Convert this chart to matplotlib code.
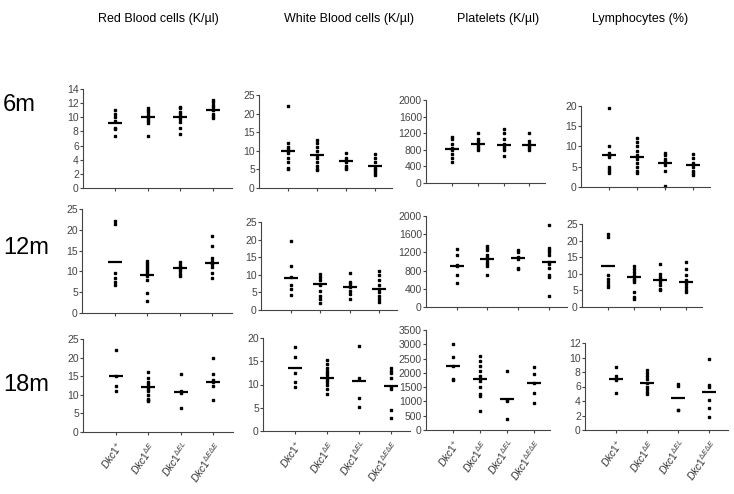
import numpy as np
import matplotlib
matplotlib.use("Agg")
import matplotlib.pyplot as plt

plt.rcParams['font.family'] = ['Liberation Sans', 'DejaVu Sans']
plt.rcParams['mathtext.fontset'] = 'custom'
plt.rcParams['mathtext.it'] = 'Liberation Sans:italic'
plt.rcParams['mathtext.rm'] = 'Liberation Sans'

# column titles, row labels and genotype labels
titles = ['Red Blood cells (K/\u00b5l)', 'White Blood cells (K/\u00b5l)',
          'Platelets (K/\u00b5l)', 'Lymphocytes (%)']
ages = ['6m', '12m', '18m']
genotypes = [r'$\mathit{Dkc1}^{+}$', r'$\mathit{Dkc1}^{\Delta E}$',
             r'$\mathit{Dkc1}^{\Delta EL}$', r'$\mathit{Dkc1}^{\Delta E\Delta E}$']

# 6 months
rbc_6m = [[11, 10.5, 10, 9.5, 8.5, 8.3, 7.3],
          [11.3, 11, 10.7, 10.3, 10, 9.8, 9.5, 9.2, 7.3],
          [11.5, 11.3, 10.8, 10.5, 10, 9.8, 9.3, 8.5, 7.6],
          [12.5, 12.2, 11.8, 11.5, 11, 10.5, 10.2, 9.9]]
rbc_6m_mean = [9.2, 10, 10.1, 11]
wbc_6m = [[22, 12, 11, 10.5, 10, 9.5, 8, 7, 5.5, 5],
          [13, 12, 11, 10, 9, 8, 7, 6, 5, 4.8],
          [9.5, 8, 7.5, 7, 6, 5.5, 5],
          [9.2, 8, 7, 5.5, 5, 4.5, 4, 3.5]]
wbc_6m_mean = [10, 9, 7.2, 6]
plt_6m = [[1100, 1050, 950, 850, 800, 700, 600, 500],
          [1200, 1050, 1000, 950, 900, 850, 800],
          [1300, 1200, 1050, 950, 900, 850, 800, 650],
          [1200, 1000, 950, 900, 850, 800]]
plt_6m_mean = [820, 930, 920, 920]
lym_6m = [[19.5, 10, 8.5, 8, 7.5, 5, 4.5, 4, 3.5],
          [12, 11, 10, 9, 8, 7, 6, 5, 4, 3.5],
          [8.5, 8, 7, 6.5, 5.5, 4, 0.3],
          [8.2, 7.2, 6, 5, 4, 3.5, 3]]
lym_6m_mean = [8, 7.5, 6, 5.5]

# 12 months
rbc_12m = [[22, 21.3, 9.5, 8.5, 7.5, 6.8],
           [12.5, 12, 11.5, 11, 10.5, 10, 9.5, 9, 8, 4.7, 2.8],
           [12.3, 11.5, 11, 10.5, 10, 9.3, 9],
           [18.5, 16, 13.3, 12.5, 12, 11.8, 11, 9.7, 8.5]]
rbc_12m_mean = [12.3, 9.2, 10.7, 12]
wbc_12m = [[19.5, 12.5, 9.5, 7, 6, 4.2],
           [10.3, 9.5, 8.5, 7.5, 7, 5.5, 4, 3, 2],
           [10.5, 8, 7.5, 6.5, 5.5, 4.5, 3.2],
           [11, 10, 8.5, 7, 6, 5, 4, 3, 2.2]]
wbc_12m_mean = [9.2, 7.3, 6.5, 6]
plt_12m = [[1280, 1150, 930, 900, 700, 520],
           [1350, 1300, 1250, 1150, 1100, 1050, 1000, 950, 900, 700],
           [1250, 1200, 1100, 1050, 850, 830],
           [1800, 1300, 1250, 1200, 1150, 1000, 950, 850, 700, 650, 250]]
plt_12m_mean = [900, 1050, 1070, 1000]
lym_12m = [[22, 21, 9.5, 8.5, 7.5, 6.5, 6],
           [12.5, 11.5, 10.5, 9.5, 8.5, 8, 7.5, 4.5, 3, 2.5],
           [13, 10, 9, 8.5, 8, 7.5, 6.5, 5.5, 5],
           [13.5, 11.5, 9.5, 8, 7, 6, 5, 4.5]]
lym_12m_mean = [12.3, 9, 8, 7.5]

# 18 months
rbc_18m = [[22, 15, 12.5, 11],
           [16, 14.5, 13.5, 13, 12, 11.5, 11, 10, 9, 8.5, 8.2],
           [15.5, 11, 10.5, 6.5],
           [20, 15.5, 14, 13.5, 12.5, 8.5]]
rbc_18m_mean = [15, 12, 10.7, 13.5]
wbc_18m = [[18, 16, 12.5, 10.5, 9.5],
           [15.3, 14.5, 13.5, 13, 12.5, 12, 11.5, 11, 10.5, 10, 9, 8],
           [18.3, 11.5, 7, 5.2],
           [13.5, 13, 12.5, 11.5, 9.5, 9, 4.5, 2.8]]
wbc_18m_mean = [13.6, 11.5, 10.7, 9.6]
plt_18m = [[3000, 2550, 2250, 1800, 1750],
           [2600, 2400, 2250, 2050, 1900, 1700, 1500, 1250, 1200, 650],
           [2050, 1050, 1020, 380],
           [2200, 1950, 1650, 1300, 950]]
plt_18m_mean = [2250, 1800, 1100, 1650]
lym_18m = [[8.7, 7.4, 7, 6.9, 5.1],
           [8.3, 7.9, 7.4, 7, 6.5, 6, 5.6, 5.2, 5],
           [6.3, 6.1, 2.8, 2.7],
           [9.8, 6.2, 6, 4.2, 3.0, 1.8]]
lym_18m_mean = [7.0, 6.5, 4.4, 5.2]

panels = [[rbc_6m, wbc_6m, plt_6m, lym_6m],
          [rbc_12m, wbc_12m, plt_12m, lym_12m],
          [rbc_18m, wbc_18m, plt_18m, lym_18m]]
means = [[rbc_6m_mean, wbc_6m_mean, plt_6m_mean, lym_6m_mean],
         [rbc_12m_mean, wbc_12m_mean, plt_12m_mean, lym_12m_mean],
         [rbc_18m_mean, wbc_18m_mean, plt_18m_mean, lym_18m_mean]]
yticks = [[np.arange(0, 15, 2), np.arange(0, 26, 5), np.arange(0, 2001, 400), np.arange(0, 21, 5)],
          [np.arange(0, 26, 5), np.arange(0, 26, 5), np.arange(0, 2001, 400), np.arange(0, 26, 5)],
          [np.arange(0, 26, 5), np.arange(0, 21, 5), np.arange(0, 3501, 500), np.arange(0, 13, 2)]]

# axes boxes in pixels: left, right, top, bottom
boxes = [[(83, 232, 89, 188), (259, 392, 95, 188), (426, 545, 100, 183), (581, 710, 106, 187)],
         [(82, 232, 209, 313), (261, 397, 222, 310), (426, 567, 216, 307), (582, 702, 224, 307)],
         [(83, 233, 339, 432), (263, 410, 338, 431), (426, 550, 330, 430), (585, 728, 343, 430)]]

W, H = 734, 494
fig = plt.figure(figsize=(W / 100, H / 100), dpi=100)

for r in range(3):
    for c in range(4):
        l, rt, t, b = boxes[r][c]
        ax = fig.add_axes([l / W, 1 - b / H, (rt - l) / W, (b - t) / H])
        for g in range(4):
            vals = panels[r][c][g]
            ax.plot([g + 1] * len(vals), vals, 's', color='black', markersize=1.7, clip_on=False)
            ax.plot(g + 1, means[r][c][g], '_', color='black', markersize=10, mew=1.6)
        ax.set_xlim(0, 4.6)
        ax.set_ylim(0, yticks[r][c][-1])
        ax.set_yticks(yticks[r][c])
        ax.set_xticks([1, 2, 3, 4])
        ax.spines['top'].set_visible(False)
        ax.spines['right'].set_visible(False)
        ax.spines['left'].set_color('#444444')
        ax.spines['bottom'].set_color('#444444')
        ax.tick_params(axis='y', labelsize=7.5, colors='#444444', length=2, pad=1)
        ax.tick_params(axis='x', length=2, colors='#444444')
        if r == 2:
            ax.set_xticklabels(genotypes, rotation=55, ha='right', rotation_mode='anchor',
                               fontsize=7.5, color='#333333')
        else:
            ax.set_xticklabels([])

title_x = [158, 349, 498, 640]
for c in range(4):
    fig.text(title_x[c] / W, 1 - 19 / H, titles[c], ha='center', va='center', fontsize=9)

age_y = [105, 248, 385]
for r in range(3):
    fig.text(3 / W, 1 - age_y[r] / H, ages[r], ha='left', va='center', fontsize=17)

fig.savefig('out.png', dpi=100)
